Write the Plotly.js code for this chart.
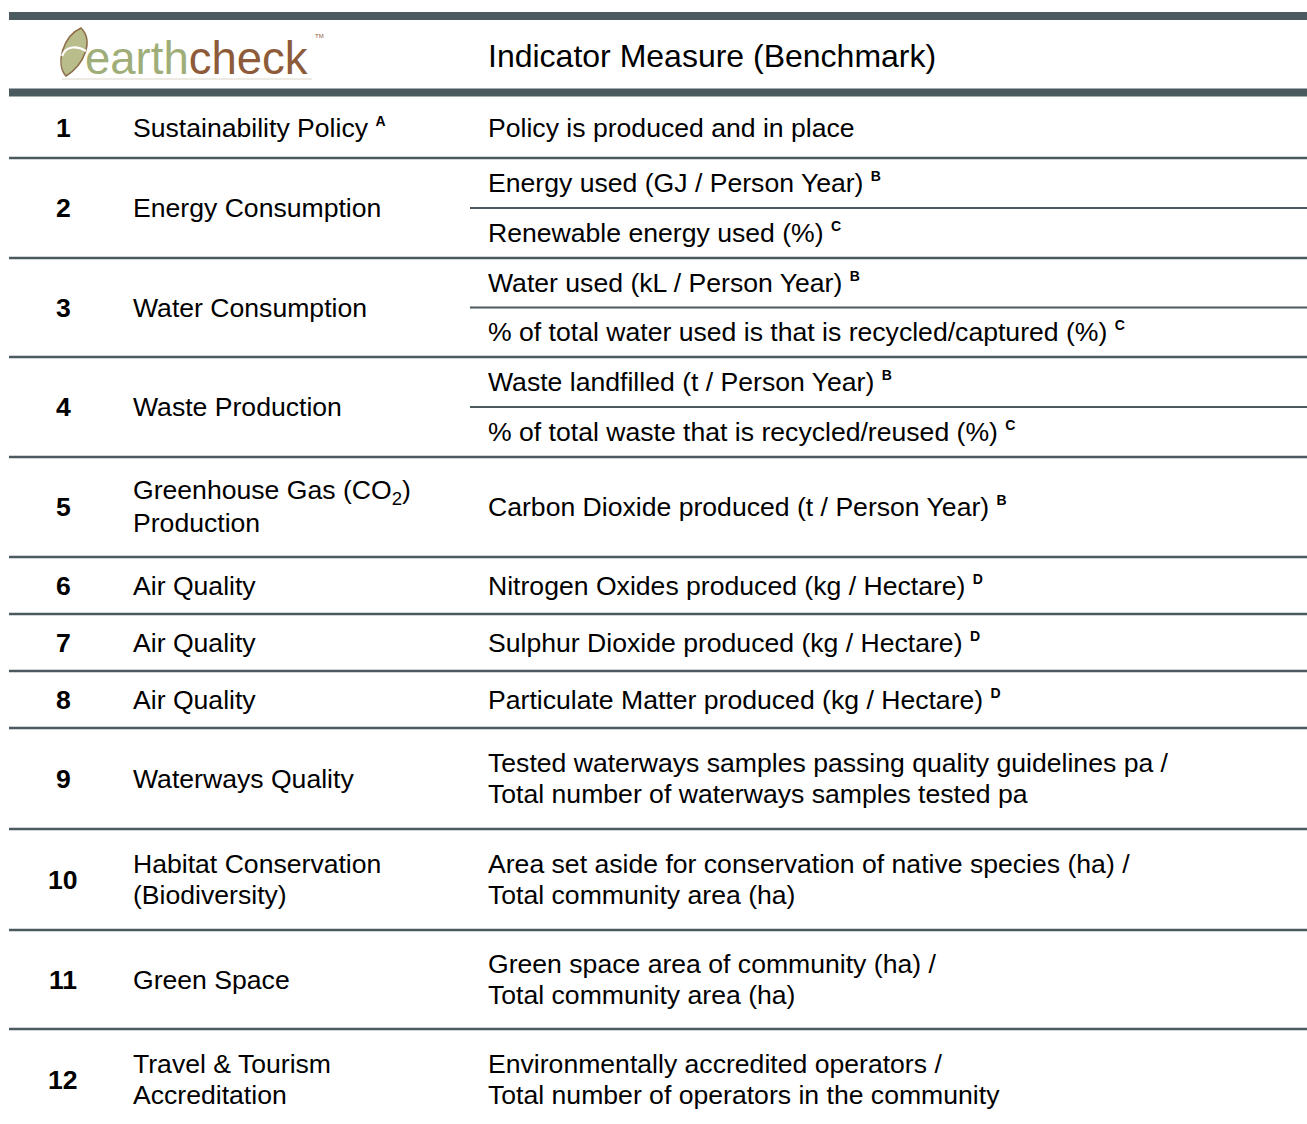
<!DOCTYPE html>
<html>
<head>
<meta charset="utf-8">
<script src="https://cdn.plot.ly/plotly-3.0.1.min.js"></script>
<style>html,body{margin:0;padding:0;background:#fff;}#chart{width:1307px;height:1124px;}</style>
</head>
<body>
<div id="chart"></div>
<script>
// ---- DATA ----
var rowNumbers = ["1","2","3","4","5","6","7","8","9","10","11","12"];
var indicators = [
  "Sustainability Policy",
  "Energy Consumption",
  "Water Consumption",
  "Waste Production",
  "Greenhouse Gas (CO<sub>2</sub>)<br>Production",
  "Air Quality",
  "Air Quality",
  "Air Quality",
  "Waterways Quality",
  "Habitat Conservation<br>(Biodiversity)",
  "Green Space",
  "Travel & Tourism<br>Accreditation"
];
var indicatorNotes = ["A","","","","","","","","","","",""];
var measures = [
  ["Policy is produced and in place"],
  ["Energy used (GJ / Person Year)", "Renewable energy used (%)"],
  ["Water used (kL / Person Year)", "% of total water used is that is recycled/captured (%)"],
  ["Waste landfilled (t / Person Year)", "% of total waste that is recycled/reused (%)"],
  ["Carbon Dioxide produced (t / Person Year)"],
  ["Nitrogen Oxides produced (kg / Hectare)"],
  ["Sulphur Dioxide produced (kg / Hectare)"],
  ["Particulate Matter produced (kg / Hectare)"],
  ["Tested waterways samples passing quality guidelines pa /<br>Total number of waterways samples tested pa"],
  ["Area set aside for conservation of native species (ha) /<br>Total community area (ha)"],
  ["Green space area of community (ha) /<br>Total community area (ha)"],
  ["Environmentally accredited operators /<br>Total number of operators in the community"]
];
var measureNotes = [
  [""],
  ["B","C"],
  ["B","C"],
  ["B","C"],
  ["B"],
  ["D"],
  ["D"],
  ["D"],
  [""],
  [""],
  [""],
  [""]
];
var headerTitle = "Indicator Measure (Benchmark)";

// ---- LAYOUT CONSTANTS ----
var W = 1307, H = 1124;
var rowEdges = [97, 158, 258, 357, 457, 557, 614, 671, 728, 829, 930, 1029, 1130];
var colNumX = 63, colIndX = 131, colMeasX = 486;
var lineLeft = 9, subLineLeft = 470;
var barColor = "#4b5a5f";
var font = "Liberation Sans, Arial, sans-serif";
var fs = 26.6, lineGap = 31;

function sup(n){ return n ? ' <sup><span style="font-size:14px"><b>' + n + '</b></span></sup>' : ''; }

var annotations = [];
var shapes = [];

function addLines(txt, x, yc, opts){
  var parts = txt.split("<br>");
  var n = parts.length;
  parts.forEach(function(p, i){
    annotations.push(Object.assign({
      x: x, y: yc + (i - (n-1)/2) * lineGap, xref:"x", yref:"y",
      text: p, showarrow:false, xanchor:"left", yanchor:"middle",
      font:{family:font, size:fs, color:"#000"}
    }, opts || {}));
  });
}

// top bars
shapes.push({type:"line", xref:"x", yref:"y", x0:lineLeft, x1:W, y0:16, y1:16, line:{color:barColor, width:8}});
shapes.push({type:"line", xref:"x", yref:"y", x0:lineLeft, x1:W, y0:92.5, y1:92.5, line:{color:barColor, width:8}});

// header
annotations.push({x:colMeasX, y:56, xref:"x", yref:"y", text:headerTitle, showarrow:false,
  xanchor:"left", yanchor:"middle", font:{family:font, size:32, color:"#000"}});

// logo
shapes.push({type:"path", xref:"x", yref:"y",
  path:"M 81 28 C 94 41, 84 65, 66 76 C 55 64, 63 36, 81 28 Z",
  fillcolor:"#b9bd8c", line:{color:"#8e6f4c", width:1.6}});
shapes.push({type:"path", xref:"x", yref:"y",
  path:"M 62 56 C 66 45, 78 46, 86 51",
  line:{color:"#ffffff", width:2.2}});
shapes.push({type:"line", xref:"x", yref:"y", x0:62, x1:312, y0:79, y1:79, line:{color:"#dcd5ca", width:1.2}});
annotations.push({x:83, y:58, xref:"x", yref:"y", showarrow:false, xanchor:"left", yanchor:"middle",
  text:'<span style="color:#9fae78">earth</span><span style="color:#8d5b3a">check</span>',
  font:{family:font, size:45.5}});
annotations.push({x:313, y:36, xref:"x", yref:"y", showarrow:false, xanchor:"left", yanchor:"middle",
  text:"TM", font:{family:font, size:6, color:"#8d5b3a"}});

// rows
rowNumbers.forEach(function(num, i){
  var top = rowEdges[i], bot = rowEdges[i+1];
  var yc = (top + bot) / 2;
  annotations.push({x:colNumX, y:yc, xref:"x", yref:"y", text:"<b>"+num+"</b>", showarrow:false,
    xanchor:"center", yanchor:"middle", font:{family:font, size:fs, color:"#000"}});
  addLines(indicators[i] + sup(indicatorNotes[i]), colIndX, yc);
  var ms = measures[i];
  var k = ms.length;
  var sub = (bot - top) / k;
  ms.forEach(function(m, j){
    var parts = m.split("<br>");
    parts[parts.length-1] += sup(measureNotes[i][j]);
    addLines(parts.join("<br>"), colMeasX, top + sub*(j+0.5));
    if (j > 0) {
      var yl = top + sub*j;
      shapes.push({type:"line", xref:"x", yref:"y", x0:subLineLeft, x1:W, y0:yl, y1:yl, line:{color:barColor, width:2}});
    }
  });
  if (i < rowNumbers.length - 1) {
    shapes.push({type:"line", xref:"x", yref:"y", x0:lineLeft, x1:W, y0:bot, y1:bot, line:{color:barColor, width:2.5}});
  }
});

var layout = {
  width:W, height:H,
  margin:{l:0, r:0, t:0, b:0},
  paper_bgcolor:"#ffffff", plot_bgcolor:"#ffffff",
  xaxis:{range:[0, W], visible:false, fixedrange:true},
  yaxis:{range:[H, 0], visible:false, fixedrange:true},
  showlegend:false,
  annotations:annotations,
  shapes:shapes
};
Plotly.newPlot("chart", [{x:[], y:[], type:"scatter", mode:"markers", hoverinfo:"skip"}], layout, {displayModeBar:false, staticPlot:true});
</script>
</body>
</html>
